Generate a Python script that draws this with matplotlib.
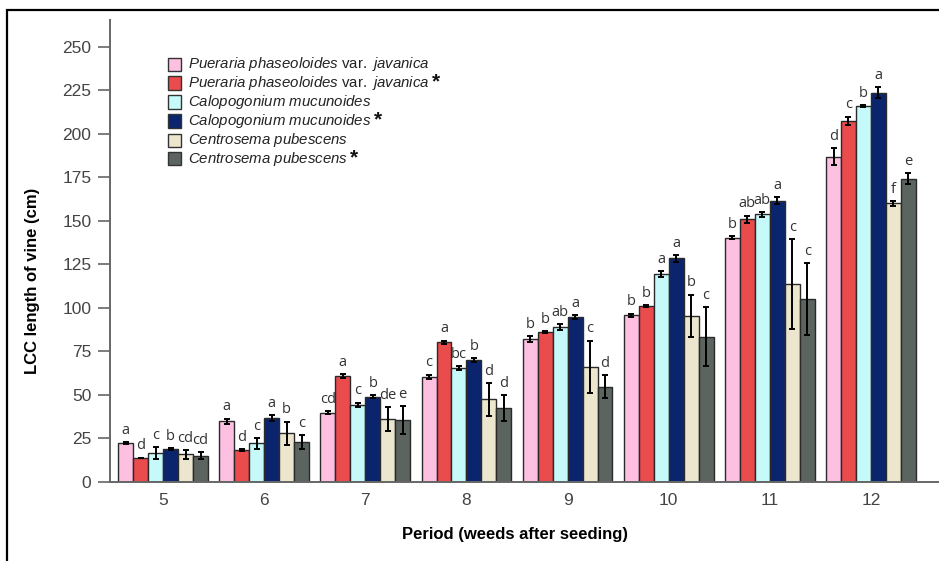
import matplotlib
matplotlib.use("Agg")
import matplotlib.pyplot as plt
import numpy as np
from matplotlib.patches import Rectangle

plt.rcParams['font.family'] = ['Liberation Sans', 'DejaVu Sans']
plt.rcParams['mathtext.fontset'] = 'custom'
plt.rcParams['mathtext.rm'] = 'Liberation Sans'
plt.rcParams['mathtext.it'] = 'Liberation Sans:italic'
plt.rcParams['mathtext.bf'] = 'Liberation Sans:bold'

# ---------------- data ----------------
periods = [5, 6, 7, 8, 9, 10, 11, 12]

species = [
    "Pueraria phaseoloides var. javanica",
    "Pueraria phaseoloides var. javanica",
    "Calopogonium mucunoides",
    "Calopogonium mucunoides",
    "Centrosema pubescens",
    "Centrosema pubescens",
]
starred = [False, True, False, True, False, True]

colors = ["#FDC0E0", "#EA4B4D", "#C6FAFA", "#0B246E", "#EDE6CF", "#5B645E"]

pueraria = [22.2, 34.9, 39.8, 60.5, 82.2, 95.8, 140.4, 187.0]
pueraria_star = [14.0, 18.4, 60.9, 80.3, 86.4, 101.1, 151.1, 207.5]
calopo = [16.5, 22.2, 44.4, 65.3, 89.1, 119.5, 153.8, 216.1]
calopo_star = [19.0, 36.8, 49.0, 70.1, 94.8, 128.5, 161.5, 223.8]
centro = [15.9, 28.0, 36.2, 47.5, 66.3, 95.4, 113.8, 160.1]
centro_star = [15.1, 23.0, 35.6, 42.5, 54.8, 83.5, 105.0, 174.3]

pueraria_err = [0.6, 1.5, 1.0, 1.2, 1.5, 1.0, 1.0, 5.0]
pueraria_star_err = [0.0, 0.4, 1.0, 1.0, 0.5, 0.8, 2.0, 2.5]
calopo_err = [3.5, 3.0, 1.2, 1.2, 1.5, 1.5, 1.5, 0.7]
calopo_star_err = [0.6, 1.5, 1.0, 1.0, 1.0, 2.0, 2.0, 3.0]
centro_err = [2.5, 6.7, 7.0, 9.5, 15.0, 12.3, 25.9, 1.5]
centro_star_err = [2.0, 4.0, 8.0, 7.5, 6.5, 17.0, 20.8, 3.0]

pueraria_let = ["a", "a", "cd", "c", "b", "b", "b", "d"]
pueraria_star_let = ["d", "d", "a", "a", "b", "b", "ab", "c"]
calopo_let = ["c", "c", "c", "bc", "ab", "a", "ab", "b"]
calopo_star_let = ["b", "a", "b", "b", "a", "a", "a", "a"]
centro_let = ["cd", "b", "de", "d", "c", "b", "c", "f"]
centro_star_let = ["cd", "c", "e", "d", "d", "c", "c", "e"]

values = [pueraria, pueraria_star, calopo, calopo_star, centro, centro_star]
errors = [pueraria_err, pueraria_star_err, calopo_err, calopo_star_err, centro_err, centro_star_err]
letters = [pueraria_let, pueraria_star_let, calopo_let, calopo_star_let, centro_let, centro_star_let]

y_ticks = [0, 25, 50, 75, 100, 125, 150, 175, 200, 225, 250]

# ---------------- figure ----------------
W, H = 939, 561
fig = plt.figure(figsize=(W / 100, H / 100), dpi=100)
ax = fig.add_axes([110 / W, 1 - 482 / H, (W - 110) / W, (482 - 20) / H])

x = np.array(periods, dtype=float)
n = len(values)
bw = 0.148
axis_grey = "#666666"

for i, (vals, errs, lets, col) in enumerate(zip(values, errors, letters, colors)):
    pos = x + (i - (n - 1) / 2) * bw
    ax.bar(pos, vals, width=bw, color=col, edgecolor="#2a2a2a", linewidth=1.0, zorder=2)
    ax.errorbar(pos, vals, yerr=errs, fmt="none", ecolor="black", elinewidth=1.4,
                capsize=2.2, capthick=1.4, zorder=3)
    for p, v, e, l in zip(pos, vals, errs, lets):
        ax.annotate(l, (p, v + e), xytext=(0, 3), textcoords="offset points",
                    ha="center", va="bottom", fontsize=10.5, color="#333333",
                    family=["Open Sans", "DejaVu Sans"])

ax.set_xlim(4.475, 12.673)
ax.set_ylim(0, 265.5)
ax.set_yticks(y_ticks)
ax.set_xticks(x)
ax.set_xticklabels([str(p) for p in periods])
for s in ["top", "right"]:
    ax.spines[s].set_visible(False)
for s in ["left", "bottom"]:
    ax.spines[s].set_color(axis_grey)
    ax.spines[s].set_linewidth(1.4)
ax.tick_params(axis="y", direction="out", length=8.5, width=1.2, color=axis_grey,
               labelsize=12.5, labelcolor="#444444", pad=5)
ax.tick_params(axis="x", length=0, labelsize=12.5, labelcolor="#444444", pad=8)
ax.set_ylabel("LCC length of vine (cm)", fontsize=12, fontweight="bold")
ax.set_xlabel("Period (weeds after seeding)", fontsize=12, fontweight="bold")
ax.yaxis.set_label_coords(40 / W, 0.5, transform=fig.transFigure)
ax.xaxis.set_label_coords(515 / W, 1 - 527 / H, transform=fig.transFigure)

# outer frame
fig.patches.append(Rectangle((7 / W, -0.2), 1.2, 0.2 + 1 - 10 / H, transform=fig.transFigure,
                             fill=False, edgecolor="black", linewidth=1.6, zorder=10))

# legend (manual)
def to_math(name):
    parts = []
    for w in name.split(" "):
        if w == "var.":
            parts.append("$\\mathrm{var.}$")
        else:
            parts.append("$\\it{" + w + "}$")
    return " ".join(parts)

renderer = fig.canvas.get_renderer()
row_y = [64, 83, 102, 121, 140, 159]
for name, st, col, yy in zip(species, starred, colors, row_y):
    fig.patches.append(Rectangle((168 / W, 1 - (yy + 6.5) / H), 13 / W, 13 / H,
                                 transform=fig.transFigure, facecolor=col,
                                 edgecolor="#333333", linewidth=1.0))
    t = fig.text(188 / W, 1 - yy / H, to_math(name), fontsize=10.8, color="#222222",
                 va="center", ha="left")
    if st:
        bb = t.get_window_extent(renderer=renderer)
        fig.text(bb.x1 / W + 2 / W, 1 - (yy - 1) / H, "*", fontsize=15, fontweight="bold",
                 va="center", ha="left", color="#111111")

fig.savefig("out.png", dpi=100)
